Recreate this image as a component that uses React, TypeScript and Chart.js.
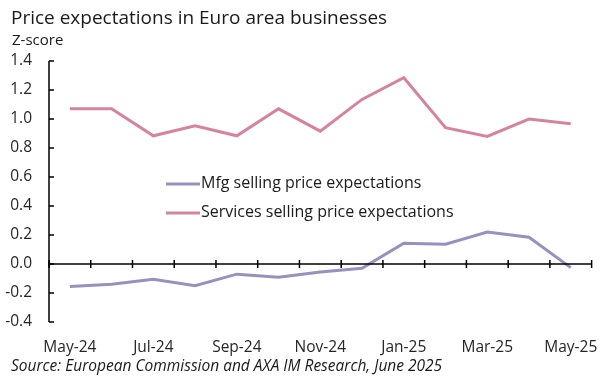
import React, { useEffect, useRef } from "react";
import { Chart, registerables } from "chart.js";

Chart.register(...registerables);

const months = ["May-24","Jun-24","Jul-24","Aug-24","Sep-24","Oct-24","Nov-24","Dec-24","Jan-25","Feb-25","Mar-25","Apr-25","May-25"];
const mfg = [-0.155,-0.14,-0.105,-0.15,-0.07,-0.092,-0.055,-0.03,0.143,0.136,0.22,0.185,-0.025];
const services = [1.07,1.07,0.884,0.953,0.884,1.07,0.916,1.135,1.285,0.94,0.88,1.0,0.967];
const yTicks = [-0.4,-0.2,0,0.2,0.4,0.6,0.8,1.0,1.2,1.4];

const titleText = "Price expectations in Euro area businesses";
const subtitleText = "Z-score";
const sourceText = "Source: European Commission and AXA IM Research, June 2025";
const FONT = "'Open Sans', 'Noto Sans', sans-serif";

export default function App() {
  const ref = useRef<HTMLCanvasElement | null>(null);
  useEffect(() => {
    document.body.style.margin = "0";
    const canvas = ref.current!;
    const deco = {
      id: "deco",
      afterDraw(chart: any) {
        const ctx = chart.ctx;
        const x = chart.scales.x;
        const y = chart.scales.y;
        const area = chart.chartArea;
        ctx.save();
        // titles
        ctx.fillStyle = "#1a1a1a";
        ctx.textBaseline = "alphabetic";
        ctx.textAlign = "left";
        ctx.font = `19px ${FONT}`;
        ctx.fillText(titleText, 11, 24);
        ctx.font = `15px ${FONT}`;
        ctx.fillText(subtitleText, 12, 45);
        ctx.font = `italic 15.5px ${FONT}`;
        ctx.fillText(sourceText, 11, 371);
        // y axis line and inner ticks
        ctx.strokeStyle = "#000";
        ctx.lineWidth = 1.5;
        ctx.beginPath();
        ctx.moveTo(area.left, y.getPixelForValue(1.4));
        ctx.lineTo(area.left, y.getPixelForValue(-0.4));
        for (const v of yTicks) {
          const py = y.getPixelForValue(v);
          ctx.moveTo(area.left, py);
          ctx.lineTo(area.left + 5, py);
        }
        ctx.stroke();
        // zero line with crossing ticks
        const y0 = y.getPixelForValue(0);
        const step = x.getPixelForValue(1) - x.getPixelForValue(0);
        ctx.beginPath();
        ctx.moveTo(area.left, y0);
        ctx.lineTo(area.right, y0);
        for (let i = 0; i <= months.length; i++) {
          const px = x.getPixelForValue(0) - step / 2 + i * step;
          ctx.moveTo(px, y0 - 4);
          ctx.lineTo(px, y0 + 4);
        }
        ctx.stroke();
        // legend
        const ds = chart.data.datasets;
        const ly = [184, 213];
        ds.forEach((d: any, i: number) => {
          ctx.strokeStyle = d.borderColor;
          ctx.lineWidth = 3;
          ctx.beginPath();
          ctx.moveTo(166, ly[i]);
          ctx.lineTo(200, ly[i]);
          ctx.stroke();
          ctx.fillStyle = "#1a1a1a";
          ctx.font = `16px ${FONT}`;
          ctx.textBaseline = "middle";
          ctx.fillText(d.label, 201, ly[i] - 1);
        });
        ctx.restore();
      },
    };
    const chart = new Chart(canvas, {
      type: "line",
      data: {
        labels: months,
        datasets: [
          { label: "Mfg selling price expectations", data: mfg, borderColor: "#9791bd", borderWidth: 3, pointRadius: 0, tension: 0 },
          { label: "Services selling price expectations", data: services, borderColor: "#d5839f", borderWidth: 3, pointRadius: 0, tension: 0 },
        ],
      },
      options: {
        animation: false,
        responsive: false,
        layout: { padding: { left: 0, right: 19, top: 61, bottom: 0 } },
        plugins: { legend: { display: false }, title: { display: false }, tooltip: { enabled: false } },
        scales: {
          x: {
            type: "category",
            offset: true,
            grid: { display: false, drawTicks: false },
            border: { display: false },
            ticks: {
              autoSkip: false,
              maxRotation: 0,
              padding: 16,
              color: "#262626",
              font: { family: FONT, size: 15.5 },
              callback: (_v: any, i: number) => (i % 2 === 0 ? months[i] : ""),
            },
            afterFit: (s: any) => { s.height = 57; },
          },
          y: {
            min: -0.4,
            max: 1.4,
            grid: { display: false, drawTicks: false },
            border: { display: false },
            ticks: {
              stepSize: 0.2,
              padding: 17,
              color: "#262626",
              font: { family: FONT, size: 15.5 },
              callback: (v: any) => (Math.abs(Number(v)) < 1e-9 ? 0 : Number(v)).toFixed(1),
            },
            afterFit: (s: any) => { s.width = 49; },
          },
        },
      },
      plugins: [deco],
    });
    return () => chart.destroy();
  }, []);
  return <canvas ref={ref} width={614} height={379} style={{ display: "block" }} />;
}
